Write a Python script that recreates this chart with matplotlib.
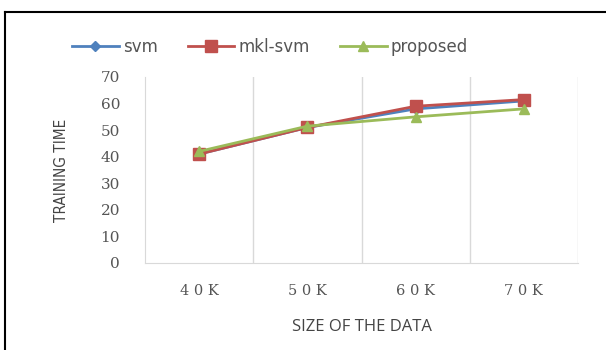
import matplotlib
matplotlib.use("Agg")
import matplotlib.pyplot as plt
from matplotlib.lines import Line2D

categories = ["4 0 K", "5 0 K", "6 0 K", "7 0 K"]
svm = [41, 51, 58, 61]
mkl_svm = [41, 51, 59, 61.5]
proposed = [42, 51.5, 55, 58]
yticks = [0, 10, 20, 30, 40, 50, 60, 70]

fig = plt.figure(figsize=(6.06, 3.5), dpi=100)
W, H = 606, 350
ax = fig.add_axes([145 / W, 1 - 263 / H, (578 - 145) / W, (263 - 77) / H])

x = list(range(len(categories)))
ax.plot(x, svm, color="#4F81BD", marker="D", markersize=5, lw=2, label="svm", zorder=3)
ax.plot(x, mkl_svm, color="#C0504D", marker="s", markersize=8, lw=2, label="mkl-svm", zorder=4)
ax.plot(x, proposed, color="#9BBB59", marker="^", markersize=7, lw=2, label="proposed", zorder=5)

ax.set_xlim(-0.5, 3.5)
ax.set_ylim(0, 70)
ax.set_yticks(yticks)
ax.set_yticklabels([str(v) for v in yticks], family="DejaVu Serif", fontsize=11, color="#555555")
ax.set_xticks(x)
ax.set_xticklabels(categories, family="DejaVu Serif", fontsize=10.5, color="#555555")
for b in [0.5, 1.5, 2.5, 3.5]:
    ax.axvline(b, color="#d9d9d9", lw=1, zorder=0)
ax.tick_params(length=0)
ax.tick_params(axis="y", pad=18)
ax.tick_params(axis="x", pad=15)
for s in ["top", "right"]:
    ax.spines[s].set_visible(False)
for s in ["left", "bottom"]:
    ax.spines[s].set_color("#d9d9d9")

ax.set_xlabel("SIZE OF THE DATA", family="Open Sans", fontsize=12, color="#444444", labelpad=15)
fig.text(62 / W, 1 - 170 / H, "TRAINING TIME", rotation=90, ha="center", va="center",
         family="Liberation Sans Narrow", fontsize=11, color="#444444", stretch="condensed")

leg = fig.legend(loc="center", bbox_to_anchor=(270 / W, 1 - 47 / H), ncol=3, frameon=False,
                 prop={"family": "DejaVu Sans", "size": 12}, handlelength=2.8,
                 columnspacing=1.8, handletextpad=0.25)
for t in leg.get_texts():
    t.set_color("#555555")

# outer frame (top and left only)
fig.add_artist(Line2D([5 / W, 1], [1 - 12 / H, 1 - 12 / H], color="black", lw=1.5, transform=fig.transFigure))
fig.add_artist(Line2D([5 / W, 5 / W], [0, 1 - 12 / H], color="black", lw=1.5, transform=fig.transFigure))

fig.savefig("out.png", dpi=100)
